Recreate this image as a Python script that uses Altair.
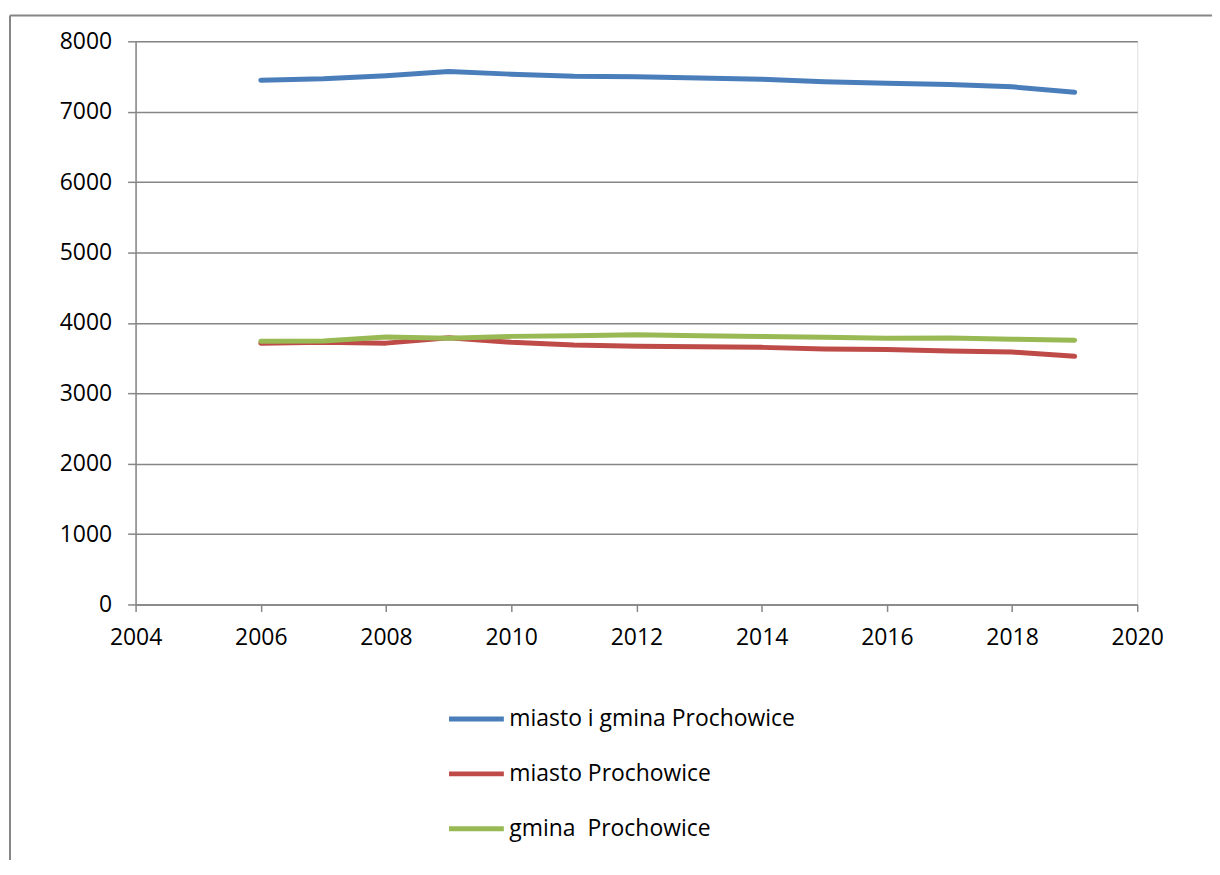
import altair as alt
import pandas as pd

years = list(range(2006, 2020))
series_names = ["miasto i gmina Prochowice", "miasto Prochowice", "gmina\u00a0 Prochowice"]
blue_vals = [7448, 7467, 7510, 7572, 7533, 7503, 7498, 7478, 7460, 7425, 7404, 7385, 7353, 7277]
red_vals = [3710, 3725, 3712, 3790, 3725, 3685, 3668, 3660, 3652, 3630, 3622, 3600, 3585, 3525]
green_vals = [3738, 3742, 3798, 3782, 3808, 3818, 3830, 3818, 3808, 3795, 3782, 3785, 3768, 3752]
colors = ["#4A7EBB", "#BE4B48", "#98B954"]
x_ticks = [2004, 2006, 2008, 2010, 2012, 2014, 2016, 2018, 2020]
y_ticks = [0, 1000, 2000, 3000, 4000, 5000, 6000, 7000, 8000]

rows = []
for name, vals in zip(series_names, [blue_vals, red_vals, green_vals]):
    for y, v in zip(years, vals):
        rows.append({"rok": y, "wartosc": v, "seria": name})
df = pd.DataFrame(rows)

FONT = "Open Sans"
GRID = "#868686"

lines = alt.Chart(df).mark_line(strokeWidth=5, strokeCap="round", strokeJoin="round").encode(
    x=alt.X("rok:Q", scale=alt.Scale(domain=[2004, 2020], nice=False, zero=False),
            axis=alt.Axis(values=x_ticks, format="d", title=None, grid=False,
                          domainColor=GRID, domainWidth=1.5, tickColor=GRID, tickWidth=1.5,
                          tickSize=7, labelPadding=15, labelFontSize=23, labelFont=FONT,
                          labelColor="black", labelFlush=False)),
    y=alt.Y("wartosc:Q", scale=alt.Scale(domain=[0, 8000], nice=False),
            axis=alt.Axis(values=y_ticks, format="d", title=None, grid=True,
                          gridColor=GRID, gridWidth=1.5, domainColor=GRID, domainWidth=1.5,
                          tickColor=GRID, tickWidth=1.5, tickSize=8, labelPadding=16,
                          labelFontSize=23, labelFont=FONT, labelColor="black")),
    color=alt.Color("seria:N", sort=series_names,
                    scale=alt.Scale(domain=series_names, range=colors),
                    legend=alt.Legend(orient="none", legendX=312, legendY=650, direction="vertical",
                                      title=None, symbolType="stroke", symbolSize=3025,
                                      symbolStrokeWidth=5, labelFontSize=23, labelFont=FONT,
                                      labelColor="black", labelOffset=3, rowPadding=13, padding=0,
                                      labelLimit=500)),
)

frame_h = alt.Chart(pd.DataFrame({"a": [0]})).mark_rule(color=GRID, strokeWidth=2).encode(
    x=alt.value(-126), x2=alt.value(1100), y=alt.value(-26))
frame_v = alt.Chart(pd.DataFrame({"a": [0]})).mark_rule(color=GRID, strokeWidth=2).encode(
    x=alt.value(-126), y=alt.value(-26), y2=alt.value(900))

chart = alt.layer(frame_h, frame_v, lines).properties(
    width=1005, height=565,
    autosize=alt.AutoSizeParams(type="none"),
    padding={"left": 128, "top": 32, "right": 75, "bottom": 255},
).configure_view(stroke=None).configure(background="white")

chart.save("out.html", embed_options={"renderer": "svg", "actions": False})
